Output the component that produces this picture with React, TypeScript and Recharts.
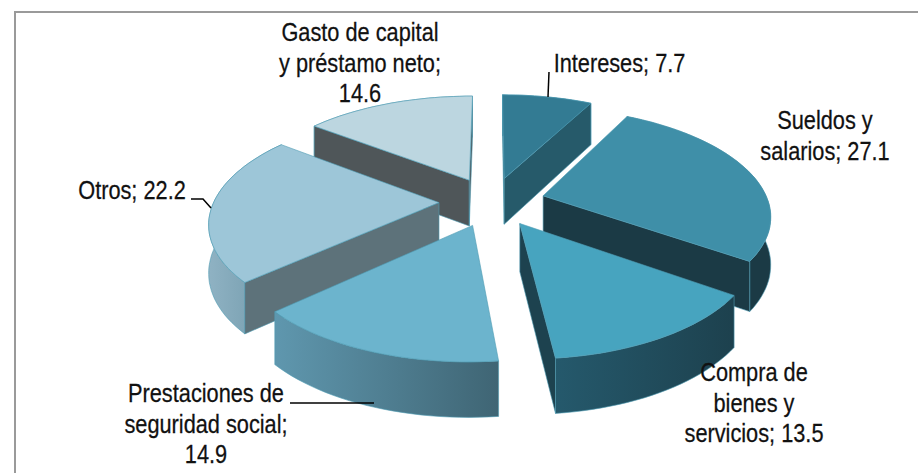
import { PieChart, Pie } from "recharts";

const CATEGORIES = [
  "Intereses",
  "Sueldos y salarios",
  "Compra de bienes y servicios",
  "Prestaciones de seguridad social",
  "Otros",
  "Gasto de capital y préstamo neto",
];
const VALUES = [7.7, 27.1, 13.5, 14.9, 22.2, 14.6];

// text of each label, broken the way the original wraps it
const LABEL_LINES = [
  ["Intereses; 7.7"],
  ["Sueldos y", "salarios; 27.1"],
  ["Compra de", "bienes y", "servicios; 13.5"],
  ["Prestaciones de", "seguridad social;", "14.9"],
  ["Otros; 22.2"],
  ["Gasto de capital", "y préstamo neto;", "14.6"],
];

// label anchor (center x, first baseline) and leader line, same order as above
const LABEL_POS = [
  { x: 619.5, y: 72, line: "549,72 548,97" },
  { x: 825, y: 129 },
  { x: 754, y: 381 },
  { x: 206, y: 402, line: "290,403 374,403" },
  { x: 132, y: 199, line: "191,199 203,199 211,208" },
  { x: 360, y: 41 },
];

const TOP_COLORS = ["#337b93", "#3f8fa8", "#47a4bf", "#6cb4cd", "#9dc6d8", "#bcd6e0"];
const WALL_COLORS = ["#265a6a", "#1b3a45", "#1d424f", "#3f6574", "#5d727a", "#4f5659"];
const OUTER_LEFT = ["#2f7088", "#1b3a45", "#25596c", "#5f97ae", "#8fb2c3", "#a9c6d2"];
const OUTER_RIGHT = ["#2f7088", "#1b3a45", "#1d414e", "#3f6574", "#6f98a9", "#a9c6d2"];

// back slices first so the nearer ones cover them
const PAINT_ORDER = [5, 0, 1, 4, 2, 3];

const data = CATEGORIES.map((name, i) => ({ name, value: VALUES[i] }));

// fake 3D view of the pie plane
const TILT = 0.465;
const PERSPECTIVE = 0.167;
const DEPTH = 47;
const EXPLODE = 53;

function Slice(props: any) {
  const { cx, cy, outerRadius: r, startAngle, endAngle, index } = props;
  const rad = (a: number) => (a * Math.PI) / 180;
  const mid = rad((startAngle + endAngle) / 2);
  const ox = Math.cos(mid) * EXPLODE;
  const oy = -Math.sin(mid) * EXPLODE;

  const project = (x: number, y: number, z: number) => {
    const w = 1 - (PERSPECTIVE * y) / r;
    return [cx + x / w, cy + (TILT * y) / w + z / Math.pow(w, 0.73)];
  };
  const onPlane = (a: number, radius: number, z: number) =>
    project(ox + Math.cos(rad(a)) * radius, oy - Math.sin(rad(a)) * radius, z);
  const pts = (list: number[][]) => list.map((p) => `${p[0].toFixed(1)},${p[1].toFixed(1)}`).join(" ");

  const steps = Math.max(2, Math.ceil(Math.abs(endAngle - startAngle) / 2));
  const angles = Array.from({ length: steps + 1 }, (_, i) => startAngle + ((endAngle - startAngle) * i) / steps);
  const arcTop = angles.map((a) => onPlane(a, r, 0));
  const arcBottom = angles.map((a) => onPlane(a, r, DEPTH));
  const apexTop = onPlane(0, 0, 0);
  const apexBottom = onPlane(0, 0, DEPTH);

  const wallStart = [apexTop, arcTop[0], arcBottom[0], apexBottom];
  const wallEnd = [arcTop[steps], apexTop, apexBottom, arcBottom[steps]];
  const facing = (q: number[][]) =>
    (q[1][0] - q[0][0]) * (q[2][1] - q[0][1]) - (q[1][1] - q[0][1]) * (q[2][0] - q[0][0]) < 0;

  const gradId = `outer-${index}`;
  const edge = { stroke: "#4f9cb3", strokeWidth: 0.6, strokeLinejoin: "round" as const };

  return (
    <g>
      <defs>
        <linearGradient id={gradId} x1="0" x2="1" y1="0" y2="0">
          <stop offset="0%" stopColor={OUTER_LEFT[index]} />
          <stop offset="100%" stopColor={OUTER_RIGHT[index]} />
        </linearGradient>
      </defs>
      <polygon points={pts([...arcTop, ...[...arcBottom].reverse()])} fill={`url(#${gradId})`} {...edge} />
      {facing(wallStart) && <polygon points={pts(wallStart)} fill={WALL_COLORS[index]} {...edge} />}
      {facing(wallEnd) && <polygon points={pts(wallEnd)} fill={WALL_COLORS[index]} {...edge} />}
      <polygon points={pts([apexTop, ...arcTop])} fill={TOP_COLORS[index]} {...edge} />
    </g>
  );
}

const renderLabel = ({ index }: any) => {
  const pos = LABEL_POS[index];
  return (
    <g key={index}>
      {pos.line && <polyline points={pos.line} fill="none" stroke="#000" strokeWidth={1.5} />}
      {LABEL_LINES[index].map((t, i) => (
        <text
          key={t}
          transform={`translate(${pos.x},${pos.y + i * 30.5}) scale(0.87,1)`}
          textAnchor="middle"
          fontFamily="Liberation Sans"
          fontSize={25}
          fill="#111"
          stroke="#111"
          strokeWidth={0.25}
        >
          {t}
        </text>
      ))}
    </g>
  );
};

export default function App() {
  return (
    <div style={{ position: "absolute", left: 0, top: 0, width: 918, height: 473, background: "#fff", overflow: "hidden" }}>
      <div
        style={{
          position: "absolute",
          left: 14,
          top: 11,
          width: 904,
          height: 462,
          borderLeft: "2px solid #9a9a9a",
          borderTop: "2px solid #9a9a9a",
        }}
      />
      <div style={{ position: "absolute", left: 0, top: 0 }}>
        <PieChart width={918} height={473} margin={{ top: 0, right: 0, bottom: 0, left: 0 }}>
          {PAINT_ORDER.map((layer) => {
            const draw = (props: any) => (props.index === layer ? <Slice {...props} /> : <g />);
            return (
              <Pie
                key={layer}
                data={data}
                dataKey="value"
                nameKey="name"
                cx={492}
                cy={201.5}
                outerRadius={225}
                startAngle={90}
                endAngle={-270}
                paddingAngle={0}
                stroke="none"
                isAnimationActive={false}
                shape={draw}
                inactiveShape={draw}
                labelLine={false}
                label={false}
              />
            );
          })}
          <Pie
            data={data}
            dataKey="value"
            cx={492}
            cy={201.5}
            outerRadius={225}
            startAngle={90}
            endAngle={-270}
            fill="none"
            stroke="none"
            isAnimationActive={false}
            labelLine={false}
            label={renderLabel}
          />
        </PieChart>
      </div>
    </div>
  );
}
